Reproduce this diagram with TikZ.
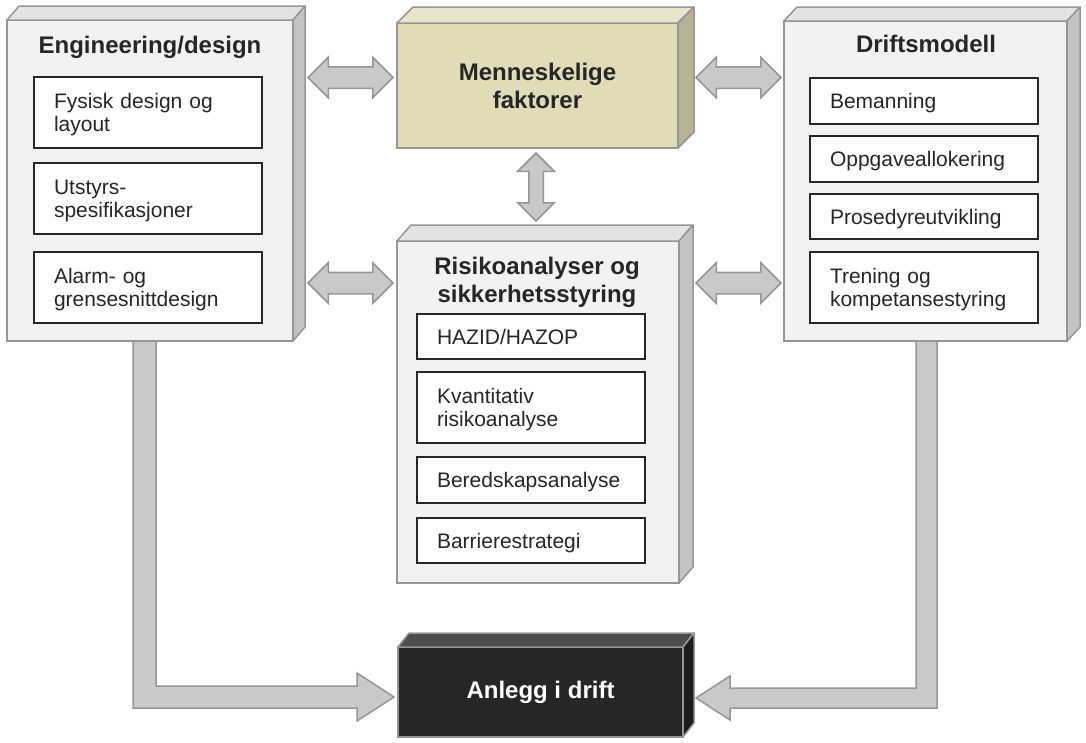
\documentclass[tikz,border=0pt]{standalone}
\usepackage{fontspec}
\setmainfont{Liberation Sans}
\usetikzlibrary{calc,shapes.arrows}

\definecolor{edgegray}{HTML}{969696}
\definecolor{boxfront}{HTML}{F2F2F2}
\definecolor{boxtop}{HTML}{E3E3E3}
\definecolor{boxside}{HTML}{C4C4C4}
\definecolor{khaki}{HTML}{DFDCB7}
\definecolor{khakitop}{HTML}{E8E5CA}
\definecolor{khakiside}{HTML}{B5B394}
\definecolor{plantfront}{HTML}{262626}
\definecolor{planttop}{HTML}{4D4D4D}
\definecolor{plantside}{HTML}{1C1C1C}
\definecolor{arrowgray}{HTML}{C9C9C9}
\definecolor{ink}{HTML}{262626}

\newcommand\itemfont{\fontsize{21}{23.3}\selectfont}
\newcommand\titlefont{\fontsize{24}{28}\selectfont\bfseries}

\tikzset{
  block/.style={draw=edgegray, line width=1.5pt, fill=boxfront, anchor=north west, outer sep=0pt, inner sep=0pt},
  face/.style={draw=edgegray, line width=1.5pt, line join=round},
  item/.style={draw=ink, line width=1.2pt, fill=white, anchor=north west, outer sep=0pt, align=left,
    text width=188pt, inner xsep=20pt, inner ysep=0pt, font=\itemfont, text=ink},
  oneline/.style={item, text depth=0pt, minimum height=#1},
  twoline/.style={item, minimum height=71pt, execute at begin node={\rule{0pt}{20pt}}},
  title/.style={font=\titlefont, text=ink, align=center},
  link/.style={double arrow, draw=edgegray, line width=1.5pt, fill=arrowgray, double arrow tip angle=90,
    minimum height=85pt, inner xsep=0pt, inner ysep=10pt, double arrow head extend=9.5pt},
  bigarrow/.style={draw=edgegray, line width=1.5pt, fill=arrowgray, line join=miter}
}

\begin{document}
\begin{tikzpicture}[x=1pt, y=-1pt]
\useasboundingbox (0,0) rectangle (1086,742);

%%%%%%%%%%%%%%%%%%%%%%%%%%%%%%% flow down to the plant
\draw[bigarrow] (133,341) -- (156,341) -- (156,686) -- (357,686) -- (357,673) -- (394,697) -- (357,721) -- (357,708) -- (133,708) -- cycle;
\draw[bigarrow] (916,341) -- (937,341) -- (937,708) -- (730,708) -- (730,720) -- (696,698) -- (730,676) -- (730,688) -- (916,688) -- cycle;

%%%%%%%%%%%%%%%%%%%%%%%%%%%%%%% Engineering/design
\node[block, minimum width=286pt, minimum height=321pt] (eng) at (7,20) {};
\draw[face, fill=boxtop] (eng.north west) -- ++(12,-14) -- ($(eng.north east)+(12,-14)$) -- (eng.north east) -- cycle;
\draw[face, fill=boxside] (eng.north east) -- ++(12,-14) -- ($(eng.south east)+(12,-14)$) -- (eng.south east) -- cycle;
\node[title] (engT) at (150,47) {Engineering/design};
\node[twoline] (fysisk) at (34,77) {Fysisk design og\\layout};
\node[twoline] (utstyr) at (34,163) {Utstyrs-\\spesifikasjoner};
\node[twoline] (alarm) at (34,252) {Alarm- og\\grensesnittdesign};

%%%%%%%%%%%%%%%%%%%%%%%%%%%%%%% Menneskelige faktorer
\node[block, fill=khaki, minimum width=281pt, minimum height=125pt, title] (mf) at (397,23) {Menneskelige\\faktorer};
\draw[face, fill=khakitop] (mf.north west) -- ++(16,-16) -- ($(mf.north east)+(16,-16)$) -- (mf.north east) -- cycle;
\draw[face, fill=khakiside] (mf.north east) -- ++(16,-16) -- ($(mf.south east)+(16,-16)$) -- (mf.south east) -- cycle;

%%%%%%%%%%%%%%%%%%%%%%%%%%%%%%% Risikoanalyser og sikkerhetsstyring
\node[block, minimum width=282pt, minimum height=342pt] (risk) at (397,241) {};
\draw[face, fill=boxtop] (risk.north west) -- ++(14,-16) -- ($(risk.north east)+(14,-16)$) -- (risk.north east) -- cycle;
\draw[face, fill=boxside] (risk.north east) -- ++(14,-16) -- ($(risk.south east)+(14,-16)$) -- (risk.south east) -- cycle;
\node[title] (riskT) at (537,282) {Risikoanalyser og\\sikkerhetsstyring};
\node[oneline=45pt] (hazid) at (417,314) {HAZID/HAZOP};
\node[twoline] (kvant) at (417,372) {Kvantitativ\\risikoanalyse};
\node[oneline=46pt] (bered) at (417,457) {Beredskapsanalyse};
\node[oneline=45pt] (barr) at (417,518) {Barrierestrategi};

%%%%%%%%%%%%%%%%%%%%%%%%%%%%%%% Driftsmodell
\node[block, minimum width=283pt, minimum height=320pt] (drift) at (784,21) {};
\draw[face, fill=boxtop] (drift.north west) -- ++(13,-14) -- ($(drift.north east)+(13,-14)$) -- (drift.north east) -- cycle;
\draw[face, fill=boxside] (drift.north east) -- ++(13,-14) -- ($(drift.south east)+(13,-14)$) -- (drift.south east) -- cycle;
\node[title] (driftT) at (926,44) {Driftsmodell};
\node[oneline=46pt] (beman) at (810,78) {Bemanning};
\node[oneline=46pt] (oppg) at (810,136) {Oppgaveallokering};
\node[oneline=45pt] (prosed) at (810,194) {Prosedyreutvikling};
\node[twoline] (trening) at (810,252) {Trening og\\kompetansestyring};

%%%%%%%%%%%%%%%%%%%%%%%%%%%%%%% Anlegg i drift
\node[block, fill=plantfront, minimum width=285pt, minimum height=90pt, title, text=white] (plant) at (398,647) {Anlegg i drift};
\draw[face, fill=planttop] (plant.north west) -- ++(11,-14) -- ($(plant.north east)+(11,-14)$) -- (plant.north east) -- cycle;
\draw[face, fill=plantside] (plant.north east) -- ++(11,-14) -- ($(plant.south east)+(11,-14)$) -- (plant.south east) -- cycle;

%%%%%%%%%%%%%%%%%%%%%%%%%%%%%%% links between the blocks
\node[link] (engmf) at (350.5,77.5) {};
\node[link] (mfdrift) at (738.5,77.5) {};
\node[link] (engrisk) at (350.5,283) {};
\node[link] (riskdrift) at (738.5,283) {};
\node[link, shape border rotate=90, minimum height=68pt, inner xsep=6.5pt, inner ysep=0pt, double arrow head extend=11pt] (mfrisk) at (536,187) {};
\end{tikzpicture}
\end{document}
